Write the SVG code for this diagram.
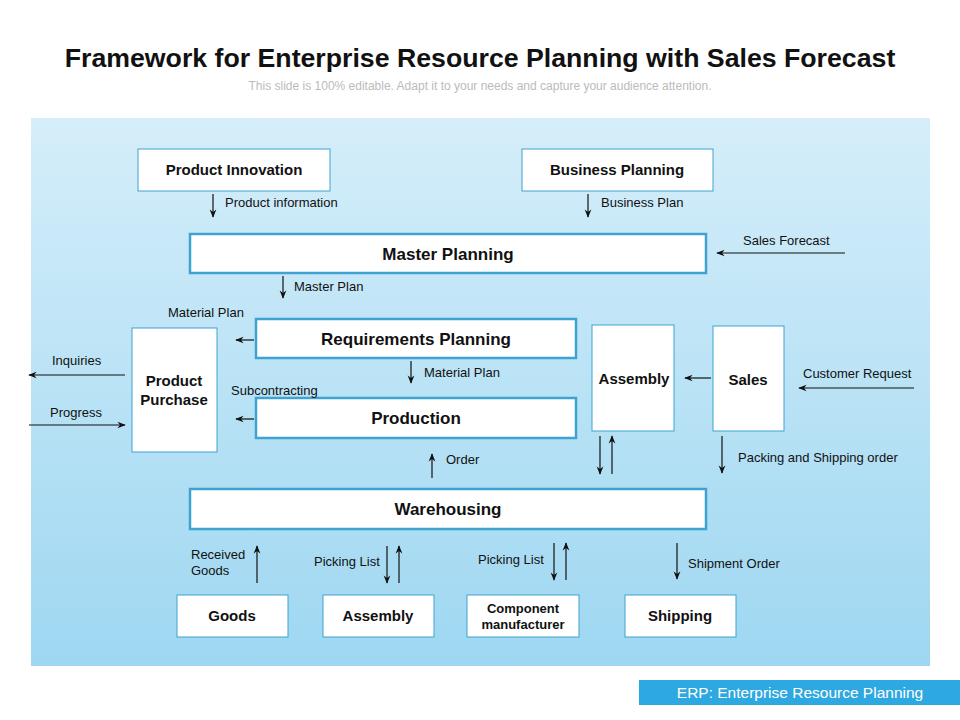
<svg xmlns="http://www.w3.org/2000/svg" width="960" height="720" viewBox="0 0 960 720">
<defs>
<linearGradient id="bg" x1="0" y1="0" x2="0" y2="1"><stop offset="0" stop-color="#d5eefa"/><stop offset="1" stop-color="#9ed7f1"/></linearGradient>
<marker id="ah" viewBox="0 0 10 10" refX="9" refY="5" markerWidth="7" markerHeight="7" orient="auto"><path d="M0,1 L10,5 L0,9 L3,5 Z" fill="#111"/></marker>
<style>
.t{font-family:"Liberation Sans",Arial,sans-serif}
.n{fill:#fff;stroke:#3fa3d1;stroke-width:1}
.k{fill:#fff;stroke:#3fa3d1;stroke-width:2.5}
.b{font-family:"Liberation Sans",Arial,sans-serif;font-weight:bold;font-size:15px;fill:#111;text-anchor:middle}
.b.g{font-size:17px}
.b.s{font-size:13px}
.l{font-family:"Liberation Sans",Arial,sans-serif;font-size:13px;fill:#111}
#c line{stroke:#111;stroke-width:1.2;marker-end:url(#ah)}
</style>
</defs>
<rect width="960" height="720" fill="#fff"/>
<text class="t" x="480" y="67" text-anchor="middle" font-size="26.7" font-weight="bold" fill="#111">Framework for Enterprise Resource Planning with Sales Forecast</text>
<text class="t" x="480" y="90" text-anchor="middle" font-size="12" fill="#bbb">This slide is 100% editable. Adapt it to your needs and capture your audience attention.</text>
<rect x="31" y="118" width="899" height="548" fill="url(#bg)"/>
<g id="n1"><rect class="n" x="138" y="149" width="192" height="42"/><text class="b" x="234" y="175">Product Innovation</text></g>
<g id="n2"><rect class="n" x="522" y="149" width="191" height="42"/><text class="b" x="617" y="175">Business Planning</text></g>
<g id="n3"><rect class="k" x="190" y="234" width="516" height="39"/><text class="b g" x="448" y="260">Master Planning</text></g>
<g id="n4"><rect class="k" x="256" y="319" width="320" height="39"/><text class="b g" x="416" y="345">Requirements Planning</text></g>
<g id="n5"><rect class="k" x="256" y="398" width="320" height="40"/><text class="b g" x="416" y="424">Production</text></g>
<g id="n6"><rect class="n" x="132" y="328" width="85" height="124"/><text class="b" x="174" y="386">Product</text><text class="b" x="174" y="405">Purchase</text></g>
<g id="n7"><rect class="n" x="592" y="325" width="82" height="106"/><text class="b" x="634" y="384">Assembly</text></g>
<g id="n8"><rect class="n" x="713" y="326" width="71" height="105"/><text class="b" x="748" y="385">Sales</text></g>
<g id="n9"><rect class="k" x="190" y="489" width="516" height="40"/><text class="b g" x="448" y="515">Warehousing</text></g>
<g id="n10"><rect class="n" x="177" y="595" width="111" height="42"/><text class="b" x="232" y="621">Goods</text></g>
<g id="n11"><rect class="n" x="323" y="595" width="111" height="42"/><text class="b" x="378" y="621">Assembly</text></g>
<g id="n12"><rect class="n" x="467" y="595" width="112" height="42"/><text class="b s" x="523" y="613">Component</text><text class="b s" x="523" y="629">manufacturer</text></g>
<g id="n13"><rect class="n" x="625" y="595" width="111" height="42"/><text class="b" x="680" y="621">Shipping</text></g>
<g id="c">
<line x1="213" y1="194" x2="213" y2="217"/>
<line x1="588" y1="194" x2="588" y2="217"/>
<line x1="845" y1="253" x2="717" y2="253"/>
<line x1="283" y1="276" x2="283" y2="298"/>
<line x1="254" y1="340" x2="236" y2="340"/>
<line x1="254" y1="419" x2="236" y2="419"/>
<line x1="125" y1="375" x2="29" y2="375"/>
<line x1="29" y1="425" x2="125" y2="425"/>
<line x1="411" y1="361" x2="411" y2="383"/>
<line x1="711" y1="378" x2="685" y2="378"/>
<line x1="914" y1="388" x2="799" y2="388"/>
<line x1="432" y1="478" x2="432" y2="454"/>
<line x1="600" y1="436" x2="600" y2="474"/>
<line x1="612" y1="474" x2="612" y2="436"/>
<line x1="722" y1="436" x2="722" y2="473"/>
<line x1="257" y1="583" x2="257" y2="546"/>
<line x1="387" y1="546" x2="387" y2="583"/>
<line x1="399" y1="583" x2="399" y2="546"/>
<line x1="554" y1="543" x2="554" y2="580"/>
<line x1="566" y1="580" x2="566" y2="543"/>
<line x1="677" y1="543" x2="677" y2="579"/>
</g>
<g class="l">
<text x="225" y="207">Product information</text>
<text x="601" y="207">Business Plan</text>
<text x="743" y="245">Sales Forecast</text>
<text x="294" y="291">Master Plan</text>
<text x="168" y="317">Material Plan</text>
<text x="52" y="365">Inquiries</text>
<text x="50" y="417">Progress</text>
<text x="231" y="395">Subcontracting</text>
<text x="424" y="377">Material Plan</text>
<text x="803" y="378">Customer Request</text>
<text x="446" y="464">Order</text>
<text x="738" y="462">Packing and Shipping order</text>
<text x="191" y="559">Received</text>
<text x="191" y="575">Goods</text>
<text x="314" y="566">Picking List</text>
<text x="478" y="564">Picking List</text>
<text x="688" y="568">Shipment Order</text>
</g>
<rect x="639" y="680" width="321" height="25" fill="#2ea8e0"/>
<text class="t" x="800" y="698" text-anchor="middle" font-size="15.5" fill="#fff">ERP: Enterprise Resource Planning</text>
</svg>
